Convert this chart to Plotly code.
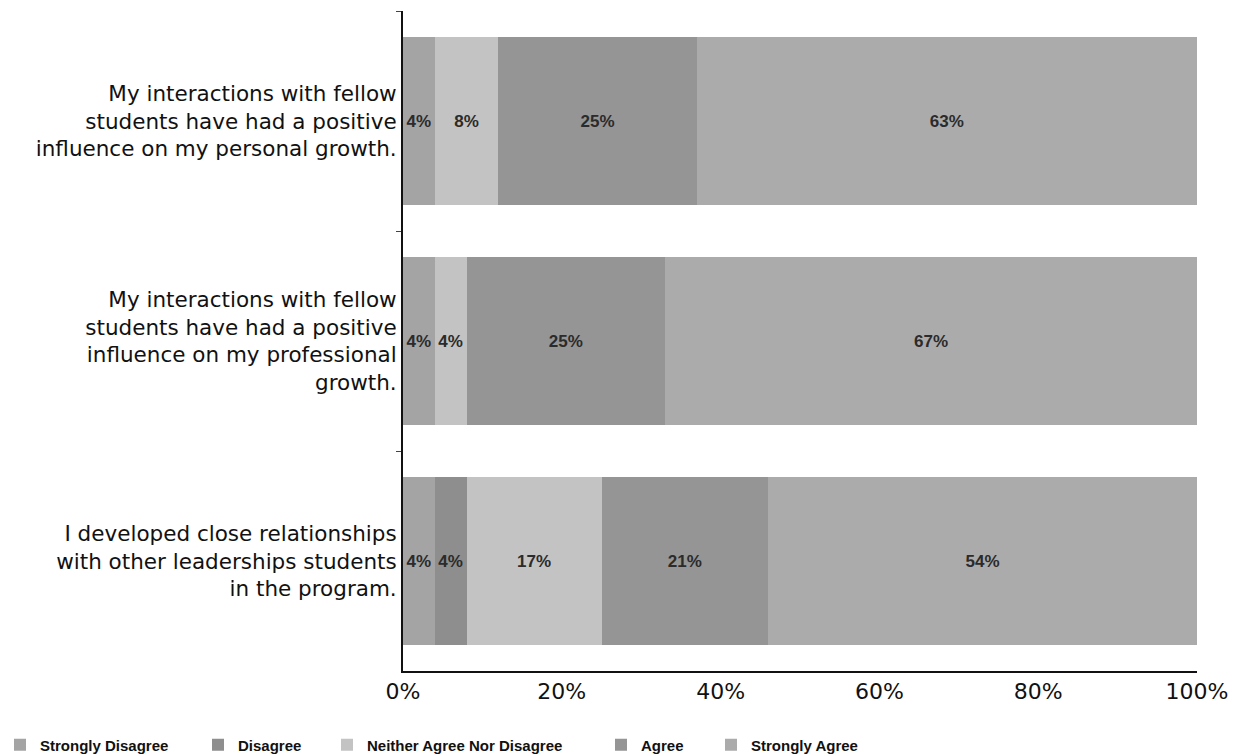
import plotly.graph_objects as go

# Survey statements (top to bottom)
categories = [
    "My interactions with fellow<br>students have had a positive<br>influence on my personal growth.",
    "My interactions with fellow<br>students have had a positive<br>influence on my professional<br>growth.",
    "I developed close relationships<br>with other leaderships students<br>in the program.",
]

# Share of responses (%) per answer, in the same order as categories
strongly_disagree = [4, 4, 4]
disagree = [0, 0, 4]
neither = [8, 4, 17]
agree = [25, 25, 21]
strongly_agree = [63, 67, 54]

series_names = ["Strongly Disagree", "Disagree", "Neither Agree Nor Disagree",
                "Agree", "Strongly Agree"]
series_values = [strongly_disagree, disagree, neither, agree, strongly_agree]
series_colors = ["#a4a4a4", "#8e8e8e", "#c3c3c3", "#959595", "#ababab"]

# left edge (px) of each legend entry along the bottom row
legend_x_px = [0, 198, 327, 601, 711]

W, H = 1234, 756

fig = go.Figure()
for i, (name, vals, col) in enumerate(zip(series_names, series_values, series_colors)):
    fig.add_trace(go.Bar(
        y=categories,
        x=vals,
        name=name,
        orientation="h",
        marker=dict(color=col, line=dict(width=0)),
        text=[f"{v}%" if v else "" for v in vals],
        textposition="inside",
        insidetextanchor="middle",
        textangle=0,
        constraintext="none",
        textfont=dict(family="Liberation Sans, Arial", size=17,
                      color="#2b2b2b", weight="bold"),
        legend="legend" if i == 0 else f"legend{i + 1}",
        hoverinfo="skip",
    ))

legend_font = dict(family="Liberation Sans, Arial", size=15,
                   color="#111111", weight="bold")
legends = {}
for i, px in enumerate(legend_x_px):
    key = "legend" if i == 0 else f"legend{i + 1}"
    legends[key] = dict(
        x=px / W, xref="container", xanchor="left",
        y=1 - 745 / H, yref="container", yanchor="middle",
        orientation="h", font=legend_font, bgcolor="rgba(0,0,0,0)",
        borderwidth=0,
    )

fig.update_layout(
    width=W, height=H,
    margin=dict(l=403, r=37, t=11, b=85, autoexpand=False),
    paper_bgcolor="white", plot_bgcolor="white",
    barmode="stack",
    bargap=0.24,
    showlegend=True,
    **legends,
)

fig.update_xaxes(
    range=[0, 100],
    tickvals=[0, 20, 40, 60, 80, 100],
    ticktext=["0%", "20%", "40%", "60%", "80%", "100%"],
    showgrid=False, zeroline=False,
    showline=True, linecolor="#111111", linewidth=2,
    ticks="", tickfont=dict(family="DejaVu Sans", size=22, color="#111111"),
    automargin=False,
    fixedrange=True,
)
fig.update_yaxes(
    autorange="reversed",
    showgrid=False, zeroline=False,
    showline=True, linecolor="#111111", linewidth=2,
    ticks="outside", ticklen=5, tickcolor="#444444", tickson="boundaries",
    tickfont=dict(family="DejaVu Sans", size=21.5, color="#111111"),
    automargin=False,
    fixedrange=True,
)

fig.write_html("out.html")
